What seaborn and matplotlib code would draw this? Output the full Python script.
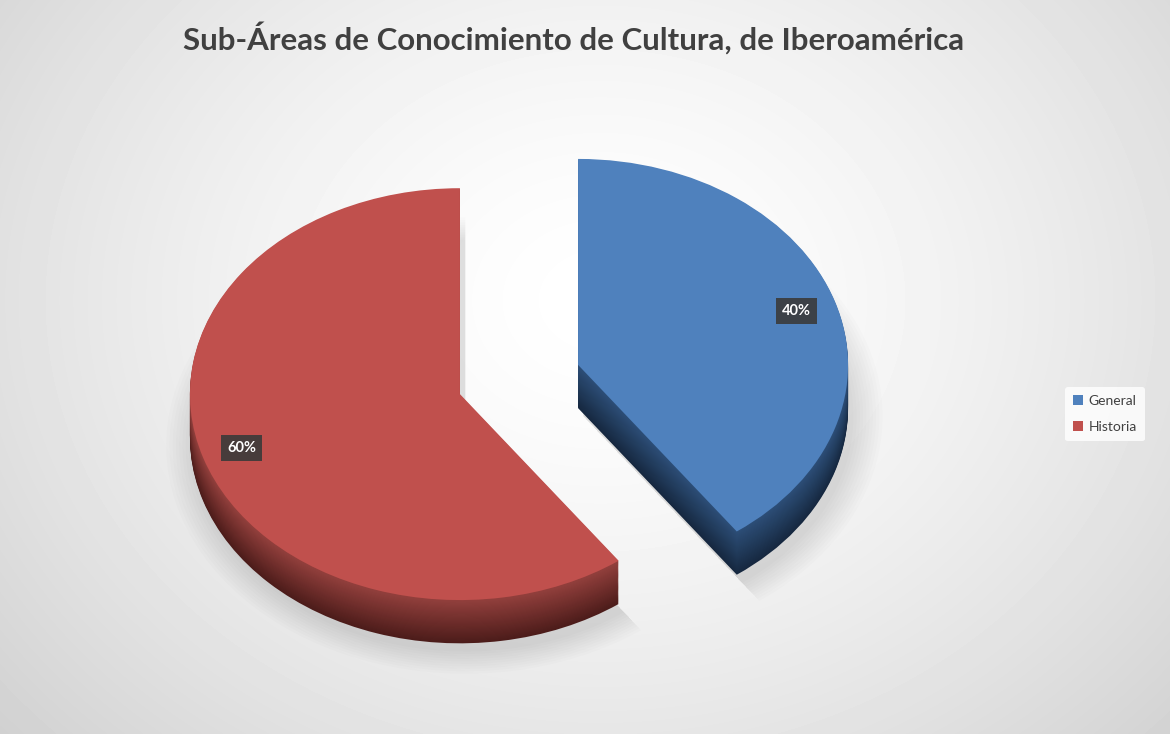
import matplotlib
matplotlib.use("Agg")
import matplotlib.pyplot as plt
import matplotlib.colors as mcolors
import numpy as np
import seaborn as sns

categories = ["General", "Historia"]
shares = [40, 60]

top_colors = ["#4f81bd", "#c0504d"]
side_light = ["#2d4f78", "#93403d"]
side_dark = ["#162840", "#4c1c1a"]

title = "Sub-Áreas de Conocimiento de Cultura, de Iberoamérica"


def mix(c1, c2, t):
    a = np.array(mcolors.to_rgb(c1))
    b = np.array(mcolors.to_rgb(c2))
    return tuple(a * (1 - t) + b * t)


sns.set_theme(style="white")
plt.rcParams['font.family'] = ['Lato', 'DejaVu Sans']

fig = plt.figure(figsize=(11.7, 7.34), dpi=100)

# background gradient
bg = fig.add_axes([0, 0, 1, 1], zorder=-10)
yy, xx = np.mgrid[0:734, 0:1170]
dist = np.sqrt(((xx - 600) / 850) ** 2 + ((yy - 300) / 700) ** 2)
shade = 1 - 0.2 * np.clip(dist, 0, 1) ** 1.5
bg.imshow(shade, cmap="gray", vmin=0, vmax=1, aspect="auto")
bg.axis("off")

# pie axes: 270 px per x unit, 206 px per y unit, centre at (519, 380)
ax = fig.add_axes([33 / 1170, 25 / 734, 972 / 1170, 659 / 734])

explode = [0.23, 0.23]
depth = 0.21
n_layers = 40

# soft shadow
for k in range(10):
    ax.pie(shares, explode=explode, startangle=90, counterclock=False,
           radius=1.0 + 0.012 * k, center=(0.02, -depth - 0.04),
           colors=[(0, 0, 0, 0.012)] * 2, wedgeprops=dict(linewidth=0))

# extruded sides
for i, off in enumerate(np.linspace(depth, 0.004, n_layers)):
    t = off / depth
    cols = [mix(side_light[j], side_dark[j], t) for j in range(2)]
    ax.pie(shares, explode=explode, startangle=90, counterclock=False,
           center=(0, -off), colors=cols, wedgeprops=dict(linewidth=0))

# top face
wedges, _, autotexts = ax.pie(shares, explode=explode, startangle=90, counterclock=False,
                              colors=top_colors, autopct='%1.0f%%', pctdistance=0.85,
                              wedgeprops=dict(linewidth=0),
                              textprops=dict(color="white", fontsize=10.5, fontweight="bold"))
for t in autotexts:
    t.set_bbox(dict(boxstyle="square,pad=0.4", facecolor="#3a3a3a", edgecolor="none", alpha=0.9))

ax.set_aspect("auto")
ax.set_xlim(-1.8, 1.8)
ax.set_ylim(-1.6, 1.6)
ax.axis("off")

fig.text(0.49, 1 - 38 / 734, title, ha="center", va="center",
         fontsize=22.5, fontweight="bold", color="#404040")

leg = fig.legend(wedges, categories, loc="center left",
                 bbox_to_anchor=(1058 / 1170, 1 - 414 / 734),
                 fontsize=10, frameon=True, handlelength=0.7, handleheight=0.7,
                 handletextpad=0.4, labelspacing=1.0, borderpad=0.6)
leg.get_frame().set_facecolor((1, 1, 1, 0.3))
leg.get_frame().set_edgecolor("none")
for txt in leg.get_texts():
    txt.set_color("#404040")

fig.savefig("out.png", dpi=100)
